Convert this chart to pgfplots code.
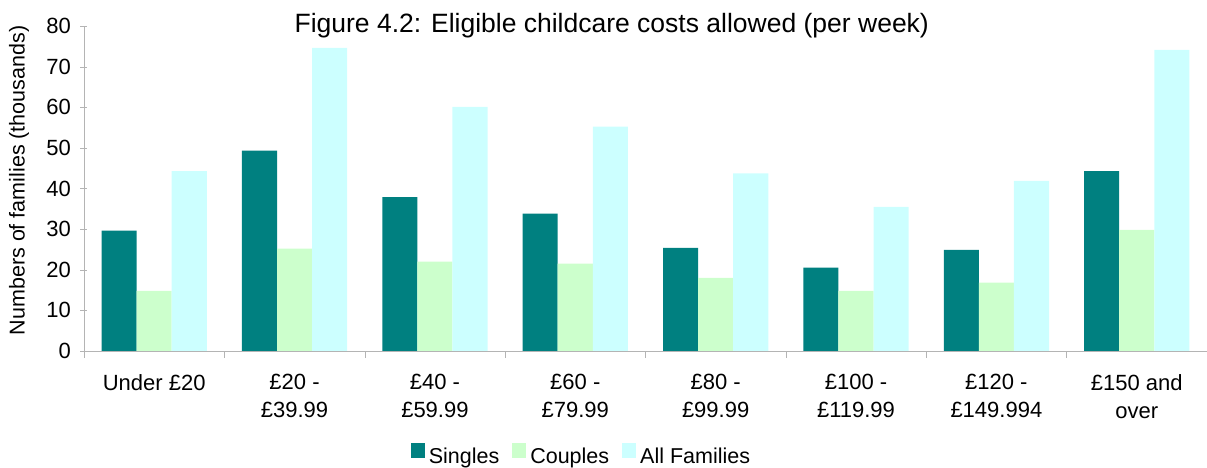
\documentclass[border=0pt]{standalone}
\usepackage{fontspec}
\setmainfont{Liberation Sans}
\usepackage{pgfplots}
\pgfplotsset{compat=1.18}

\definecolor{singles}{HTML}{008080}
\definecolor{couples}{HTML}{CCFFCC}
\definecolor{allfam}{HTML}{CCFFFF}
\definecolor{axgray}{HTML}{B4B4B4}

\begin{document}
\begin{tikzpicture}
  % picture frame: 1 px of the reference = 1 pt
  \useasboundingbox (-84pt,-117pt) rectangle (1123pt,351pt);
  \begin{axis}[
    at={(0pt,0pt)}, anchor=south west,
    scale only axis,
    width=1123pt, height=325pt,
    clip=false,
    ymin=0, ymax=80,
    ytick={0,10,...,80},
    xmin=-0.5, xmax=7.5,
    xtick={0,...,7},
    xticklabels={{Under £20},{£20 -\\£39.99},{£40 -\\£59.99},{£60 -\\£79.99},{£80 -\\£99.99},{£100 -\\£119.99},{£120 -\\£149.994},{£150 and\\over}},
    minor xtick={-0.5,0.5,...,7.5},
    major x tick style={draw=none},
    minor x tick style={draw=axgray},
    y tick style={draw=axgray},
    tick align=outside,
    major tick length=7pt,
    minor tick length=7pt,
    axis lines=left,
    axis line style={draw=axgray, -},
    /pgf/number format/assume math mode=true,
    ticklabel style={font=\fontsize{22}{28}\selectfont},
    xticklabel style={align=center, anchor=north, yshift=-13pt},
    yticklabel style={xshift=-6pt},
    ylabel={Numbers of families (thousands)},
    every axis y label/.style={at={(axis description cs:0,0.525)}, xshift=-65pt, rotate=90, anchor=center, font=\fontsize{21.5}{26}\selectfont},
    ybar, bar width=0.25,
    legend style={at={(axis description cs:0.443,0)}, anchor=center, yshift=-104pt,
      draw=none, legend columns=-1, font=\fontsize{21.5}{26}\selectfont,
      nodes={inner xsep=2pt},
      /tikz/every odd column/.append style={column sep=2pt},
      /tikz/every even column/.append style={column sep=11pt}},
    legend image code/.code={\fill[#1] (0pt,-1pt) rectangle (14pt,14pt);},
  ]
    \addplot[fill=singles, draw=none, bar shift=-0.25] coordinates {
      (0,29.6) (1,49.3) (2,37.9) (3,33.8) (4,25.4) (5,20.5) (6,24.9) (7,44.3)
    };
    \addplot[fill=couples, draw=none, bar shift=0] coordinates {
      (0,14.8) (1,25.2) (2,22.0) (3,21.5) (4,18.0) (5,14.8) (6,16.8) (7,29.8)
    };
    \addplot[fill=allfam, draw=none, bar shift=0.25] coordinates {
      (0,44.3) (1,74.6) (2,60.1) (3,55.2) (4,43.7) (5,35.5) (6,41.9) (7,74.1)
    };
    \legend{Singles, Couples, All Families}

    \node[anchor=base, font=\fontsize{26.5}{30}\selectfont] at (axis description cs:0.470,0.980)
      {Figure 4.2: Eligible childcare costs allowed (per week)};
  \end{axis}
\end{tikzpicture}
\end{document}
